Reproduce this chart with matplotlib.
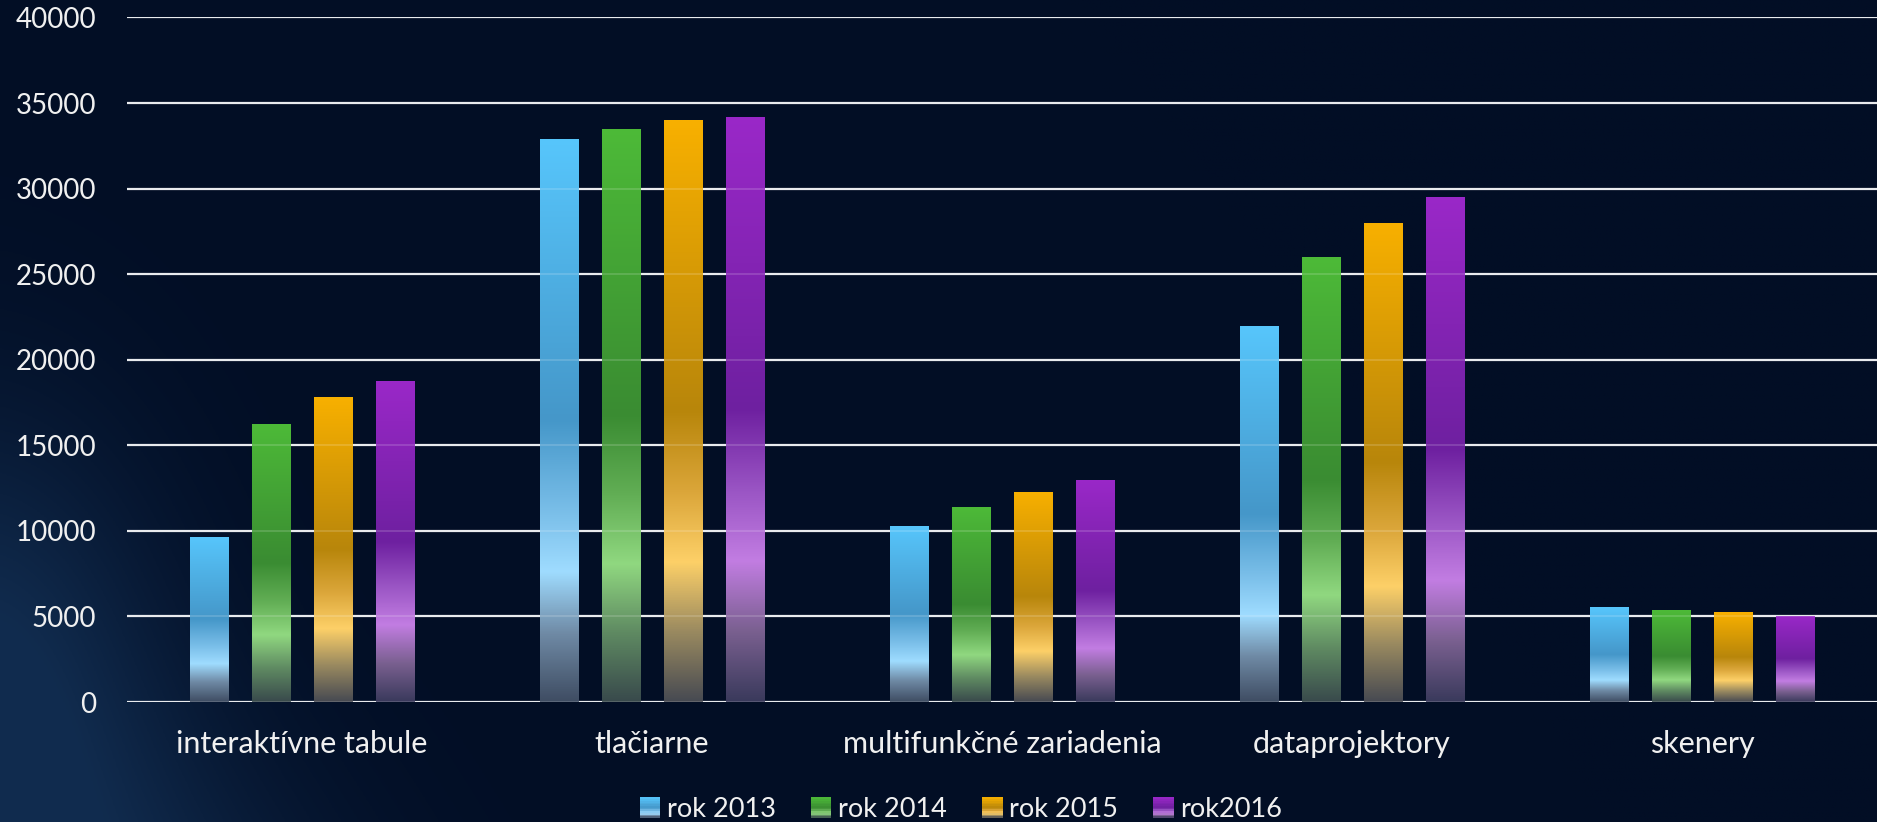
import numpy as np
import matplotlib
matplotlib.use("Agg")
import matplotlib.pyplot as plt
from matplotlib.colors import LinearSegmentedColormap, to_rgb
from matplotlib.legend_handler import HandlerBase
from matplotlib.patches import Rectangle, Patch

categories = ["interaktívne tabule", "tlačiarne", "multifunkčné zariadenia", "dataprojektory", "skenery"]
series_names = ["rok 2013", "rok 2014", "rok 2015", "rok2016"]
rok_2013 = [9650, 32900, 10300, 22000, 5550]
rok_2014 = [16250, 33500, 11400, 26000, 5370]
rok_2015 = [17800, 34000, 12300, 28000, 5250]
rok_2016 = [18750, 34200, 13000, 29500, 5030]
y_ticks = [0, 5000, 10000, 15000, 20000, 25000, 30000, 35000, 40000]

series_values = [rok_2013, rok_2014, rok_2015, rok_2016]

# gradient stops (fraction from bottom, colour)
grad_stops = [
    [(0.0, "#3f4d63"), (0.12, "#6f8aa5"), (0.23, "#9fdcff"), (0.33, "#7cc0ea"), (0.5, "#4597c9"), (1.0, "#57c6fc")],
    [(0.0, "#394a4c"), (0.12, "#5f8a62"), (0.24, "#90d880"), (0.36, "#62ae55"), (0.5, "#3a8c32"), (1.0, "#4dba38")],
    [(0.0, "#474a52"), (0.12, "#9a8a60"), (0.24, "#fdd068"), (0.36, "#dba63a"), (0.5, "#b8860b"), (1.0, "#f8b000")],
    [(0.0, "#3a3a5c"), (0.12, "#7a6090"), (0.24, "#c27de2"), (0.36, "#9a55c4"), (0.5, "#6e20a0"), (1.0, "#9a28c8")],
]
cmaps = [LinearSegmentedColormap.from_list(f"g{i}", s) for i, s in enumerate(grad_stops)]

W, H = 1877, 822
fig = plt.figure(figsize=(W / 100, H / 100), dpi=100)
bg_col = np.array(to_rgb("#020e25"))
fig.patch.set_facecolor(bg_col)

# background with a soft diagonal glow along the lower left
bgax = fig.add_axes([0, 0, 1, 1], zorder=-10)
yy, xx = np.mgrid[0:1:300j, 0:1:600j]   # yy: 0 top -> 1 bottom
px = xx * W
py = yy * H
ang = np.radians(-55)
u = px * np.cos(ang) - (py - 822) * np.sin(ang)
v = px * np.sin(ang) + (py - 822) * np.cos(ang)
glow = np.exp(-(v / 220.0) ** 2) * np.exp(-((u - 150) / 480.0) ** 2)
glow += 0.5 * np.exp(-(px / 160.0) ** 2) * np.exp(-((py - 620) / 240.0) ** 2)
glow = np.clip(glow, 0, 1) * 0.55
glow_col = np.array(to_rgb("#1d4470"))
img = bg_col[None, None, :] * (1 - glow[..., None]) + glow_col[None, None, :] * glow[..., None]
bgax.imshow(img, aspect="auto", extent=[0, 1, 0, 1], origin="upper")
bgax.axis("off")

ax = fig.add_axes([127 / W, 120 / H, 1 - 127 / W, (804.5 - 120) / H])
ax.set_facecolor("none")

x = np.arange(len(categories))
bw = 0.1086
step = 0.177
grad = np.linspace(0, 1, 256).reshape(-1, 1)
for i, vals in enumerate(series_values):
    xs = x + (i - 1.5) * step
    bars = ax.bar(xs, vals, width=bw, color="none", edgecolor="none", zorder=3)
    for b in bars:
        x0, y0 = b.get_x(), b.get_y()
        im = ax.imshow(grad, cmap=cmaps[i], aspect="auto", origin="lower",
                       extent=[x0, x0 + b.get_width(), y0, y0 + b.get_height()], zorder=3)
        im.set_clip_path(b)

ax.set_xlim(-0.5, len(categories) - 0.5)
ax.set_ylim(0, 40000)

for yv in y_ticks:
    ax.axhline(yv, color="#e6e8ec", lw=1.6, zorder=1)
    ax.axhline(yv, color="#ffffff", lw=1.2, alpha=0.18, zorder=4)

ax.set_yticks(y_ticks)
ax.set_yticklabels([str(v) for v in y_ticks])
ax.set_xticks(x)
ax.set_xticklabels(categories)
for s in ax.spines.values():
    s.set_visible(False)
ax.tick_params(axis="both", length=0, colors="#f0f0f0")
ax.tick_params(axis="x", pad=20, labelsize=22)
ax.tick_params(axis="y", pad=22, labelsize=20)
for lab in ax.get_xticklabels() + ax.get_yticklabels():
    lab.set_fontfamily("Lato")
    lab.set_color("#f0f0f0")


class GradHandler(HandlerBase):
    def __init__(self, cmap):
        super().__init__()
        self.cmap = cmap

    def create_artists(self, legend, orig_handle, xdescent, ydescent, width, height, fontsize, trans):
        n = 12
        arts = []
        for k in range(n):
            arts.append(Rectangle((-xdescent, -ydescent + height * k / n), width, height / n + 0.3,
                                  facecolor=self.cmap((k + 0.5) / n), edgecolor="none", transform=trans))
        return arts


handles = [Patch(label=n) for n in series_names]
leg = fig.legend(handles, series_names, loc="center", bbox_to_anchor=(0.512, 0.015), ncol=4,
                 frameon=False, handlelength=0.75, handleheight=0.8, handletextpad=0.25,
                 columnspacing=1.3, prop={"family": "Lato", "size": 19.5},
                 handler_map={h: GradHandler(cmaps[i]) for i, h in enumerate(handles)})
for t in leg.get_texts():
    t.set_color("#f0f0f0")

fig.savefig("out.png", dpi=100, facecolor=fig.get_facecolor())
